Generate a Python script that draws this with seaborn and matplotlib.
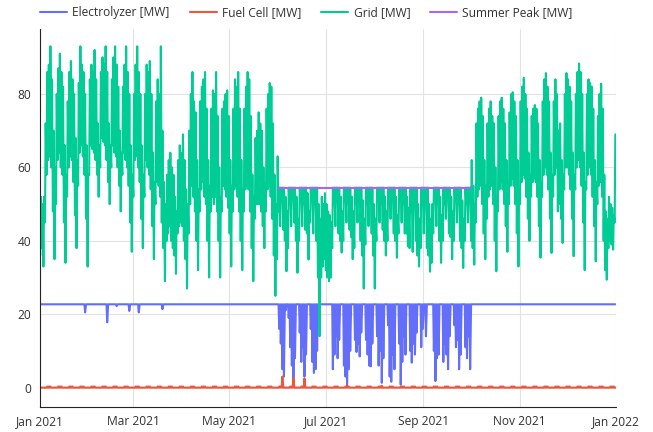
import numpy as np
import pandas as pd
import matplotlib
matplotlib.use("Agg")
import matplotlib.pyplot as plt
import seaborn as sns

# ---------------- data ----------------
series_names = ["Electrolyzer [MW]", "Fuel Cell [MW]", "Grid [MW]", "Summer Peak [MW]"]
series_colors = ["#636EFA", "#EF553B", "#00CC96", "#AB63FA"]

year_start = "2021-01-01"
x_tick_dates = ["2021-01-01", "2021-03-01", "2021-05-01", "2021-07-01",
                "2021-09-01", "2021-11-01", "2022-01-01"]
x_tick_labels = ["Jan 2021", "Mar 2021", "May 2021", "Jul 2021",
                 "Sep 2021", "Nov 2021", "Jan 2022"]
y_ticks = [0, 20, 40, 60, 80]

# Grid [MW]: daily maximum (daytime) and daily minimum (night) per month
grid_hi_jan = [52, 50, 52, 72, 86, 88, 93, 84, 70, 60, 80, 87, 91, 86, 82, 66, 58, 78, 86, 89, 84, 80, 68, 62, 83, 93, 88, 86, 80, 66, 58]
grid_lo_jan = [36, 38, 33, 45, 58, 62, 63, 60, 48, 35, 50, 62, 64, 60, 58, 45, 34, 52, 60, 63, 62, 56, 47, 38, 55, 64, 66, 63, 58, 46, 33]
grid_hi_feb = [84, 88, 86, 92, 84, 72, 66, 86, 90, 88, 93, 86, 72, 66, 84, 90, 93, 88, 82, 70, 64, 82, 88, 93, 86, 80, 66, 58]
grid_lo_feb = [58, 66, 65, 64, 62, 58, 52, 60, 68, 67, 66, 62, 56, 50, 60, 66, 64, 63, 60, 55, 48, 58, 64, 62, 60, 55, 45, 37]
grid_hi_mar = [80, 88, 93, 86, 80, 66, 58, 80, 88, 86, 89, 80, 64, 56, 78, 84, 80, 93, 70, 56, 50, 58, 62, 64, 60, 58, 52, 48, 62, 66, 64]
grid_lo_mar = [52, 62, 63, 60, 56, 46, 38, 52, 62, 60, 58, 54, 44, 35, 50, 56, 55, 52, 45, 38, 29, 40, 42, 44, 40, 38, 36, 31, 42, 44, 45]
grid_hi_apr = [69, 62, 54, 50, 70, 80, 86, 78, 75, 62, 54, 78, 82, 84, 86, 76, 62, 55, 76, 81, 80, 86, 74, 60, 52, 76, 78, 80, 81, 74]
grid_lo_apr = [44, 40, 35, 27, 42, 50, 55, 52, 48, 40, 32, 48, 54, 56, 52, 50, 40, 30, 48, 52, 50, 52, 48, 40, 30, 48, 55, 54, 52, 49]
grid_hi_may = [62, 55, 76, 84, 82, 86, 76, 62, 54, 76, 82, 86, 84, 74, 58, 52, 68, 70, 75, 72, 70, 60, 56, 76, 80, 83, 82, 72, 58, 50, 63]
grid_lo_may = [42, 33, 48, 54, 55, 52, 48, 40, 32, 48, 54, 55, 54, 48, 38, 29, 46, 50, 50, 50, 48, 44, 38, 48, 54, 55, 52, 46, 36, 25, 35]
grid_hi_jun = [54.5, 54.5, 54.5, 54.5, 52, 48, 54.5, 54.5, 54.5, 54.5, 54.5, 52, 46, 54.5, 54.5, 54.5, 54.5, 54.5, 53, 48, 54.5, 54.5, 54.5, 54.5, 54.5, 50, 46, 52, 50, 53]
grid_lo_jun = [48, 44, 51, 43, 40, 31.7, 38, 50, 44, 52, 45, 40, 31.3, 40, 51, 44, 50, 43, 42, 34.9, 45, 51, 42, 50, 40, 30, 14, 30, 33, 35]
grid_hi_jul = [50, 48, 47, 45, 54.5, 54.5, 54.5, 54.5, 54.5, 52, 48, 54.5, 54.5, 54.5, 54.5, 54.5, 52, 48, 54.5, 54.5, 54.5, 54.5, 54.5, 51, 46, 54.5, 54.5, 54.5, 54.5, 54.5, 50]
grid_lo_jul = [32, 30, 29, 30, 38, 50, 44, 51, 42, 40, 36.8, 40, 51, 45, 50, 43, 41, 35, 38, 50, 45, 51, 40, 36, 27, 39, 50, 44, 51, 42, 36]
grid_hi_aug = [46, 54.5, 54.5, 54.5, 54.5, 54.5, 52, 48, 54.5, 54.5, 54.5, 54.5, 54.5, 52, 47, 54.5, 54.5, 54.5, 54.5, 54.5, 52, 49, 54.5, 54.5, 54.5, 54.5, 54.5, 50, 46, 54.5, 54.5]
grid_lo_aug = [27, 40, 51, 45, 50, 43, 40, 36, 40, 50, 46, 51, 42, 40, 35.4, 42, 51, 45, 50, 42, 42, 38.5, 38, 48, 37, 50, 40, 36, 33, 38, 50]
grid_hi_sep = [54.5, 54.5, 54.5, 50, 46, 50, 54.5, 54.5, 54.5, 54.5, 52, 47, 54.5, 54.5, 54.5, 54.5, 54.5, 52, 48, 54.5, 54.5, 54.5, 54.5, 54.5, 51, 46, 54.5, 54.5, 54.5, 54.5]
grid_lo_sep = [42, 50, 38, 36, 31.6, 34, 42, 51, 44, 50, 40, 34, 40, 50, 46, 51, 42, 41, 35, 40, 51, 45, 50, 40, 38, 32.6, 40, 50, 45, 51]
grid_hi_oct = [62, 55, 50, 72, 76, 78, 79, 74, 62, 55, 72, 76, 78, 74, 72, 60, 52, 74, 78, 79, 76, 72, 62, 56, 75, 80, 80.5, 78, 74, 62, 54]
grid_lo_oct = [40, 38, 33.5, 45, 52, 54, 55, 50, 42, 35, 46, 52, 54, 55, 50, 40, 31.7, 48, 54, 56, 54, 50, 44, 37, 50, 55, 57, 55, 50, 42, 33]
grid_hi_nov = [78, 82, 84.4, 80, 76, 64, 58, 74, 76, 77, 76, 72, 62, 56, 78, 84, 85.7, 82, 78, 64, 58, 78, 84, 80, 70, 72, 62, 58, 80, 85.7]
grid_lo_nov = [50, 56, 58, 57, 52, 46, 40, 52, 56, 57, 56, 52, 44, 35.4, 52, 58, 60, 58, 54, 46, 36.7, 52, 58, 60, 48, 50, 46, 39.4, 54, 60]
grid_hi_dec = [84, 82, 78, 64, 58, 80, 86, 88.3, 86, 80, 64, 56, 80, 84, 83, 82, 76, 62, 56, 74, 80, 82.8, 76, 58, 48, 46, 52, 50, 49, 47, 69]
grid_lo_dec = [60, 58, 54, 46, 35.8, 54, 60, 62, 60, 55, 45, 32, 54, 58, 60, 58, 52, 44, 34.4, 50, 55, 56, 52, 40, 32, 29.4, 38, 40, 39, 37.6, 45]

# Electrolyzer [MW]
elec_capacity = 22.7
elec_dips = {"2021-01-29": 20.5, "2021-02-12": 17.8, "2021-02-18": 22.2,
             "2021-02-26": 20.9, "2021-03-04": 20.5, "2021-03-19": 21.4}
elec_summer_start = "2021-06-01"
elec_summer_lo = [
    16, 12, 5, 3, 21, 22.7,
    19, 11, 6, 2.6, 8, 22.7, 22.7,
    15, 7, 11, 3, 9, 22.7, 22.7,
    16, 7, 4, 5, 10, 22.7, 22.7,
    22.7, 22.7, 22.7,
    22.7, 22.7, 22.7, 22.7,
    5, 9, 14, 8, 13, 22.7, 22.7,
    6, 3, 0.8, 5, 10, 22.7, 22.7,
    13, 9.7, 12, 8.5, 15, 22.7, 22.7,
    13, 9, 6, 5.8, 12, 22.7,
    22.7,
    14, 6, 10, 1.3, 8, 22.7, 22.7,
    17, 3, 1.6, 9, 5, 22.7, 22.7,
    12, 0.8, 7, 14, 9, 22.7, 22.7,
    10, 6.8, 12, 9, 15, 22.7, 22.7,
    11, 16,
    22.7, 14, 22.7, 22.7, 22.7,
    22.7, 10, 1.8, 8, 9, 22.7, 22.7,
    7, 12, 9, 5, 14, 22.7, 22.7,
    17, 11, 13, 5, 9, 22.7, 22.7,
    11, 8, 14, 5,
]

# Fuel Cell [MW]
fuel_ripple = 0.3
fuel_ripple_weekdays = ["Tuesday", "Wednesday", "Thursday"]
fuel_spikes = {"2021-06-03": 3.0, "2021-06-10": 2.6, "2021-06-17": 2.5,
               "2021-07-14": 0.5, "2021-08-05": 0.5}

# Summer Peak [MW]
summer_peak = 54.5
summer_span = ["2021-06-01 00:00", "2021-09-30 23:00"]

# ---------------- assemble ----------------
grid_hi = np.array(grid_hi_jan + grid_hi_feb + grid_hi_mar + grid_hi_apr + grid_hi_may + grid_hi_jun +
                   grid_hi_jul + grid_hi_aug + grid_hi_sep + grid_hi_oct + grid_hi_nov + grid_hi_dec, dtype=float)
grid_lo = np.array(grid_lo_jan + grid_lo_feb + grid_lo_mar + grid_lo_apr + grid_lo_may + grid_lo_jun +
                   grid_lo_jul + grid_lo_aug + grid_lo_sep + grid_lo_oct + grid_lo_nov + grid_lo_dec, dtype=float)
n = len(grid_hi)
days = pd.date_range(year_start, periods=n, freq="D")
t_night = days + pd.Timedelta(hours=4)
t_day = days + pd.Timedelta(hours=14)


def interleave(a, b):
    out = np.empty(2 * len(a), dtype=object)
    out[0::2] = list(a)
    out[1::2] = list(b)
    return out


times = interleave(t_night, t_day)

elec_lo = np.full(n, elec_capacity)
for d, v in elec_dips.items():
    elec_lo[days.get_loc(pd.Timestamp(d))] = v
s0 = days.get_loc(pd.Timestamp(elec_summer_start))
elec_lo[s0:s0 + len(elec_summer_lo)] = elec_summer_lo
elec_night = np.full(n, elec_capacity)

fuel_day = np.where(days.day_name().isin(fuel_ripple_weekdays), fuel_ripple, 0.0)
for d, v in fuel_spikes.items():
    fuel_day[days.get_loc(pd.Timestamp(d))] = v
fuel_night = np.zeros(n)

frames = [
    pd.DataFrame({"time": times, "value": interleave(elec_night, elec_lo), "series": series_names[0]}),
    pd.DataFrame({"time": times, "value": interleave(fuel_night, fuel_day), "series": series_names[1]}),
    pd.DataFrame({"time": times, "value": interleave(grid_lo, grid_hi), "series": series_names[2]}),
    pd.DataFrame({"time": pd.to_datetime(summer_span), "value": [summer_peak, summer_peak],
                  "series": series_names[3]}),
]
df = pd.concat(frames, ignore_index=True)
df["time"] = pd.to_datetime(df["time"])
df["value"] = df["value"].astype(float)

# ---------------- plot ----------------
sns.set_style("white")
plt.rcParams["font.family"] = ["Open Sans", "DejaVu Sans"]
text_color = "#333333"
fs = 8.64

fig = plt.figure(figsize=(6.53, 4.32), dpi=100)
ax = fig.add_axes([40 / 653, 1 - 406.7 / 432, 576 / 653, (406.7 - 28.5) / 432])

sns.lineplot(data=df, x="time", y="value", hue="series", hue_order=series_names,
             palette=series_colors, estimator=None, linewidth=1.5, ax=ax)

ax.set_xlim(pd.Timestamp("2021-01-01"), pd.Timestamp("2022-01-01"))
ax.set_ylim(-5.2, 97.85)
ax.set_xticks(pd.to_datetime(x_tick_dates))
ax.set_xticklabels(x_tick_labels)
ax.set_yticks(y_ticks)
ax.set_xlabel("")
ax.set_ylabel("")
ax.grid(True, color="#E2E2E2", linewidth=0.8)
ax.set_axisbelow(True)
for side in ["top", "right"]:
    ax.spines[side].set_visible(False)
for side in ["left", "bottom"]:
    ax.spines[side].set_color("#242424")
    ax.spines[side].set_linewidth(0.8)
ax.tick_params(axis="both", which="major", direction="out", length=3.6, width=0.8,
               color="#242424", labelsize=fs, labelcolor=text_color, pad=2.5)

handles, labels = ax.get_legend_handles_labels()
ax.get_legend().remove()
for h in handles:
    h.set_linewidth(1.5)
leg = ax.legend(handles, labels, loc="center left", bbox_to_anchor=(0.0, 1.043), ncol=4,
                frameon=False, handlelength=2.25, handletextpad=0.45, columnspacing=1.65,
                borderpad=0, borderaxespad=0, fontsize=fs)
for t in leg.get_texts():
    t.set_color(text_color)

fig.savefig("out.png", dpi=100)
